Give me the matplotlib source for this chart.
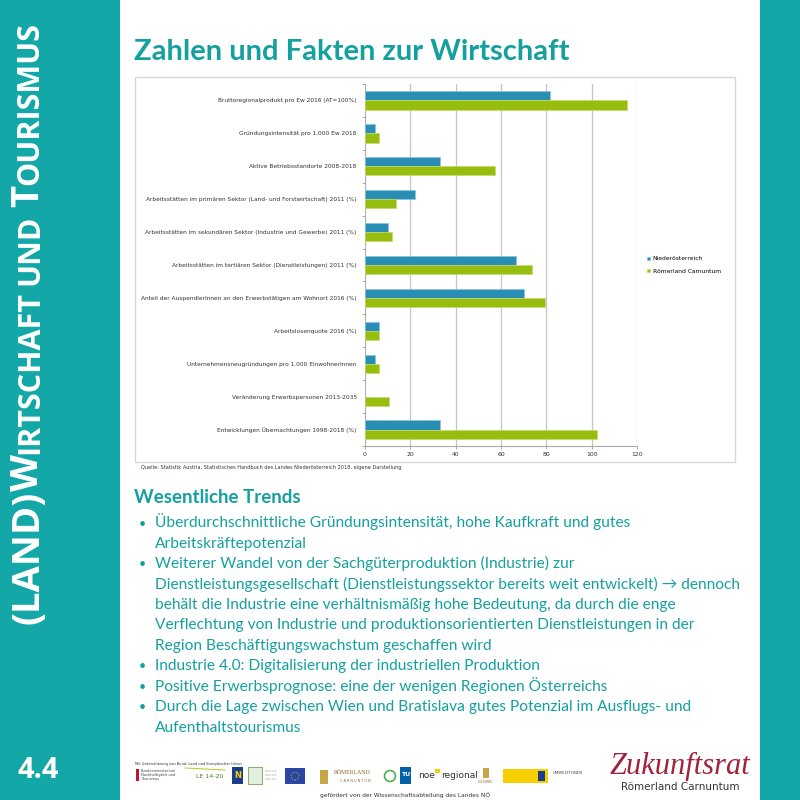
import matplotlib.pyplot as plt
import matplotlib.patches as patches
import numpy as np

# Daten
categories = [
    "Bruttoregionalprodukt pro Ew 2016 (AT=100%)",
    "Gründungsintensität pro 1.000 Ew 2018",
    "Aktive Betriebsstandorte 2008-2018",
    "Arbeitsstätten im primären Sektor (Land- und Forstwirtschaft) 2011 (%)",
    "Arbeitsstätten im sekundären Sektor (Industrie und Gewerbe) 2011 (%)",
    "Arbeitsstätten im tertiären Sektor (Dienstleistungen) 2011 (%)",
    "Anteil der AuspendlerInnen an den Erwerbstätigen am Wohnort 2016 (%)",
    "Arbeitslosenquote 2016 (%)",
    "Unternehmensneugründungen pro 1.000 EinwohnerInnen",
    "Veränderung Erwerbspersonen 2013-2035",
    "Entwicklungen Übernachtungen 1998-2018 (%)",
]
noe = [81.5, 4.6, 33.3, 22.2, 10.3, 66.7, 70.2, 6.0, 4.6, 0, 33.3]
roemerland = [115.4, 6.0, 57.3, 13.7, 11.9, 73.7, 79.6, 6.0, 6.0, 10.8, 102.2]
series_names = ["Niederösterreich", "Römerland Carnuntum"]
x_ticks = [0, 20, 40, 60, 80, 100, 120]

trends = [
    ("•", "Überdurchschnittliche Gründungsintensität, hohe Kaufkraft und gutes"),
    ("", "Arbeitskräftepotenzial"),
    ("•", "Weiterer Wandel von der Sachgüterproduktion (Industrie) zur"),
    ("", "Dienstleistungsgesellschaft (Dienstleistungssektor bereits weit entwickelt) → dennoch"),
    ("", "behält die Industrie eine verhältnismäßig hohe Bedeutung, da durch die enge"),
    ("", "Verflechtung von Industrie und produktionsorientierten Dienstleistungen in der"),
    ("", "Region Beschäftigungswachstum geschaffen wird"),
    ("•", "Industrie 4.0: Digitalisierung der industriellen Produktion"),
    ("•", "Positive Erwerbsprognose: eine der wenigen Regionen Österreichs"),
    ("•", "Durch die Lage zwischen Wien und Bratislava gutes Potenzial im Ausflugs- und"),
    ("", "Aufenthaltstourismus"),
]

TEAL = "#13A8A7"
TEXT = "#15A0A0"
BLUE = "#2A8DB3"
GREEN = "#97BD0F"
W = H = 800.0


def fx(px):
    return px / W


def fy(py):
    return 1 - py / H


fig = plt.figure(figsize=(8, 8), dpi=100)
fig.patch.set_facecolor("white")

# Seitenleisten
fig.patches.append(patches.Rectangle((0, 0), fx(120), 1, transform=fig.transFigure,
                                     facecolor=TEAL, edgecolor="none", zorder=0))
fig.patches.append(patches.Rectangle((fx(760), 0), fx(40), 1, transform=fig.transFigure,
                                     facecolor=TEAL, edgecolor="none", zorder=0))

# Rahmen um das Diagramm
fig.patches.append(patches.Rectangle((fx(135), fy(462)), fx(600), 385 / H,
                                     transform=fig.transFigure, facecolor="white",
                                     edgecolor="#D8D8D8", lw=1.0, zorder=0))

# Titel
fig.text(fx(134), fy(60), "Zahlen und Fakten zur Wirtschaft", fontsize=21,
         fontweight="bold", color=TEXT, family=["Lato", "DejaVu Sans"], va="baseline")

# Balkendiagramm
ax = fig.add_axes([fx(365), fy(446), fx(637) - fx(365), (446 - 84) / H])
ax.set_zorder(2)
ax.patch.set_alpha(0)
y = np.arange(len(categories))
h = 0.28
ax.barh(y - h / 2, noe, height=h, color=BLUE, edgecolor="#86C6E2", lw=0.5,
        label=series_names[0], zorder=3)
ax.barh(y + h / 2, roemerland, height=h, color=GREEN, edgecolor="#C4DC6C", lw=0.5,
        label=series_names[1], zorder=3)
ax.set_ylim(len(categories) - 0.5, -0.5)
ax.set_xlim(0, 120)
ax.set_yticks(y)
ax.set_yticklabels(categories, fontsize=4.2, color="#333333", family="DejaVu Sans")
ax.set_yticks(np.arange(-0.5, len(categories), 1), minor=True)
ax.set_xticks(x_ticks)
ax.set_xticklabels([str(v) for v in x_ticks], fontsize=4.4, color="#333333")
ax.tick_params(axis="y", which="major", length=0, pad=6)
ax.tick_params(axis="y", which="minor", length=2.5, color="#999999", width=0.6)
ax.tick_params(axis="x", length=2.5, color="#999999", width=0.6, pad=2)
ax.grid(axis="x", color="#C4C4C4", lw=0.9, zorder=0)
for s in ["top", "right"]:
    ax.spines[s].set_visible(False)
ax.spines["left"].set_color("#AAAAAA")
ax.spines["left"].set_linewidth(0.6)
ax.spines["bottom"].set_color("#AAAAAA")
ax.spines["bottom"].set_linewidth(0.8)

fig.legend(loc="center left", bbox_to_anchor=(fx(645), fy(265)), frameon=False,
           fontsize=4.3, handlelength=0.5, handleheight=0.5, handletextpad=0.4,
           labelspacing=1.2, borderaxespad=0)

fig.text(fx(141), fy(468), "Quelle: Statistik Austria, Statistisches Handbuch des Landes "
         "Niederösterreich 2018, eigene Darstellung", fontsize=3.6, color="#333333",
         va="center")

# Wesentliche Trends
fig.text(fx(134), fy(503), "Wesentliche Trends", fontsize=13.5, fontweight="bold",
         color=TEXT, family=["Lato", "DejaVu Sans"], va="baseline")
for i, (bullet, line) in enumerate(trends):
    yy = 527.5 + i * 20.4
    if bullet:
        fig.text(fx(139), fy(yy), bullet, fontsize=9, color=TEXT, va="baseline",
                 family=["Lato", "DejaVu Sans"])
    fig.text(fx(155), fy(yy), line, fontsize=11.2, color=TEXT, va="baseline",
             family=["Lato", "DejaVu Sans"])

# Seitentitel vertikal
renderer = fig.canvas.get_renderer()
big, small = 27.5, 22
parts = [("(LAND)", big, 0), ("W", big, 0), ("IRTSCHAFT", small, 6), ("UND", small, 7),
         ("T", big, 0), ("OURISMUS", small, 0)]
pos = 624.0
for txt, size, gap in parts:
    t = fig.text(fx(38), fy(pos), txt, rotation=90, rotation_mode="anchor", ha="left",
                 va="baseline", fontsize=size, color="white", fontweight="bold",
                 family="Open Sans")
    bb = t.get_window_extent(renderer)
    pos -= bb.height + gap

fig.text(fx(18), fy(770), "4.4", fontsize=21, fontweight="bold", color="white",
         family="Open Sans", va="center")

# Logos unten (vereinfacht)
fig.text(fx(135), fy(764), "Mit Unterstützung von Bund, Land und Europäischer Union",
         fontsize=2.6, color="#333333", va="center")
fig.patches.append(patches.Rectangle((fx(136), fy(781)), fx(3), 12 / H,
                                     transform=fig.transFigure, facecolor="#C8102E"))
fig.text(fx(141), fy(775), "Bundesministerium\nNachhaltigkeit und\nTourismus",
         fontsize=2.6, color="#444444", va="center", linespacing=1.1)
fig.text(fx(196), fy(776), "LE 14-20", fontsize=4.5, color="#4F7F3A", va="center")
fig.add_artist(plt.Line2D([fx(185), fx(225)], [fy(768), fy(770)], color="#B6D23A",
                          lw=0.8, transform=fig.transFigure))
fig.patches.append(patches.Rectangle((fx(232), fy(784)), fx(11), 17 / H,
                                     transform=fig.transFigure, facecolor="#1C3C8C"))
fig.text(fx(237.5), fy(775.5), "N", fontsize=6, fontweight="bold", color="#F6D000",
         ha="center", va="center")
fig.patches.append(patches.Rectangle((fx(248), fy(784)), fx(14), 17 / H,
                                     transform=fig.transFigure, facecolor="#E6F0E0",
                                     edgecolor="#5E8F3A", lw=0.5))
fig.text(fx(265), fy(775), "=====\n=====\n=====", fontsize=2.2, color="#888888",
         va="center", linespacing=1.0)
fig.patches.append(patches.Rectangle((fx(285), fy(784)), fx(20), 16 / H,
                                     transform=fig.transFigure, facecolor="#2B45A3"))
fig.patches.append(patches.Circle((fx(295), fy(776)), 4 / H, transform=fig.transFigure,
                                  facecolor="none", edgecolor="#F6D000", lw=0.6,
                                  ls=":"))
fig.patches.append(patches.Rectangle((fx(320), fy(784)), fx(8), 14 / H,
                                     transform=fig.transFigure, facecolor="#C9A54A"))
fig.text(fx(334), fy(773), "RÖMERLAND", fontsize=4.2, color="#8C6A23", va="center",
         family="Liberation Serif")
fig.text(fx(340), fy(781), "C A R N U N T U M", fontsize=2.4, color="#8C6A23",
         va="center")
fig.patches.append(patches.Circle((fx(390), fy(776)), 5.5 / H, transform=fig.transFigure,
                                  facecolor="white", edgecolor="#4CAF50", lw=1.2))
fig.patches.append(patches.Rectangle((fx(400), fy(784)), fx(11), 17 / H,
                                     transform=fig.transFigure, facecolor="#0060A8"))
fig.text(fx(405.5), fy(774), "TU", fontsize=4.5, fontweight="bold", color="white",
         ha="center", va="center")
fig.text(fx(418), fy(775), "noe", fontsize=6.5, color="#333333", va="center")
fig.patches.append(patches.Rectangle((fx(435), fy(773)), fx(5), 4 / H,
                                     transform=fig.transFigure, facecolor="#F6D000"))
fig.text(fx(441), fy(775), "regional", fontsize=6.5, color="#333333", va="center")
fig.patches.append(patches.Rectangle((fx(483), fy(778)), fx(6), 10 / H,
                                     transform=fig.transFigure, facecolor="#C9A54A"))
fig.text(fx(486), fy(782), "CULTURBO", fontsize=2.2, color="#8C6A23", ha="center",
         va="center")
fig.patches.append(patches.Rectangle((fx(503), fy(783)), fx(45), 14 / H,
                                     transform=fig.transFigure, facecolor="#F5CF00"))
fig.patches.append(patches.Rectangle((fx(538), fy(781)), fx(7), 10 / H,
                                     transform=fig.transFigure, facecolor="#1C3C8C"))
fig.text(fx(553), fy(773), "UMWELTFONDS", fontsize=2.8, color="#444444", va="center")
fig.text(fx(405), fy(795), "gefördert von der Wissenschaftsabteilung des Landes NÖ",
         fontsize=4.2, color="#333333", ha="center", va="center")

fig.text(fx(680), fy(766), "Zukunftsrat", fontsize=22, color="#A3213A", ha="center",
         va="center", family="Liberation Serif", style="italic")
fig.text(fx(680), fy(787), "Römerland Carnuntum", fontsize=7.5, color="#333333",
         ha="center", va="center")

fig.savefig("out.png", dpi=100)
